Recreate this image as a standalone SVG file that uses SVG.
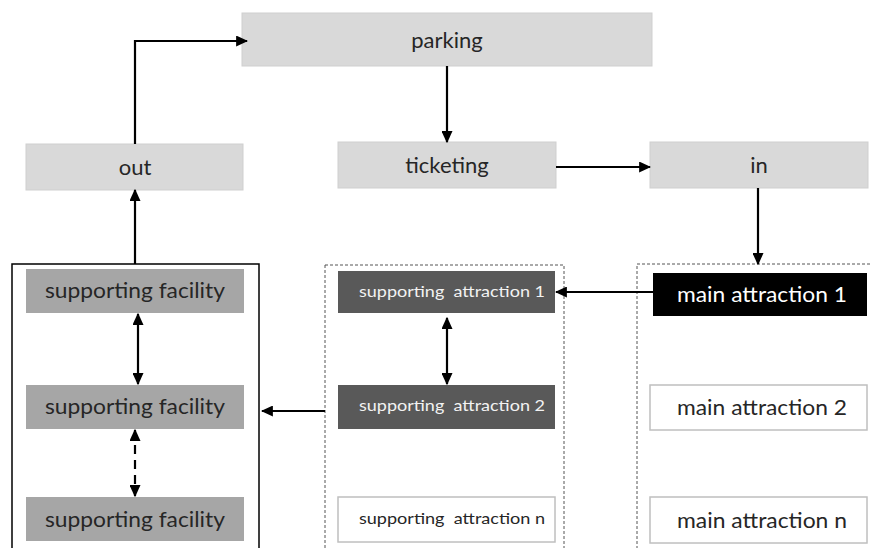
<svg xmlns="http://www.w3.org/2000/svg" width="872" height="548" viewBox="0 0 872 548">
<style>
.lt{fill:#d9d9d9;stroke:#cfcfcf;stroke-width:1}
.sf{fill:#a6a6a6}
.sa{fill:#595959}
.wb{fill:#fff;stroke:#bfbfbf;stroke-width:1.5}
text{font-family:Lato,"Open Sans","Liberation Sans",sans-serif;text-anchor:middle;fill:#262626}
.t20{font-size:22px}
.t15{font-size:15px;fill:#f2f2f2}
.c{fill:none;stroke:#000;stroke-width:2.2}
</style>
<defs>
<marker id="ah" viewBox="0 0 10 10" refX="9" refY="5" markerWidth="5.5" markerHeight="5" markerUnits="strokeWidth" orient="auto-start-reverse" preserveAspectRatio="none">
<path d="M0,0 L10,5 L0,10 z" fill="#000"/>
</marker>
</defs>
<rect width="872" height="548" fill="#fff"/>
<g id="containers">
<rect x="12" y="264" width="247" height="300" fill="none" stroke="#000" stroke-width="1.5"/>
<rect x="325" y="265" width="239" height="300" fill="none" stroke="#555" stroke-width="1" stroke-dasharray="3,2"/>
<rect x="637" y="264" width="250" height="300" fill="none" stroke="#555" stroke-width="1" stroke-dasharray="3,2"/>
</g>
<g id="parking"><rect class="lt" x="242" y="13" width="410" height="53"/><text class="t20" x="447" y="48">parking</text></g>
<g id="out"><rect class="lt" x="26" y="144" width="217" height="46"/><text class="t20" x="135" y="175">out</text></g>
<g id="ticketing"><rect class="lt" x="338" y="142" width="218" height="46"/><text class="t20" x="447" y="173">ticketing</text></g>
<g id="in"><rect class="lt" x="650" y="142" width="218" height="46"/><text class="t20" x="759" y="173">in</text></g>
<g id="sf1"><rect class="sf" x="26" y="269" width="218" height="44"/><text class="t20" x="135" y="298" textLength="180" lengthAdjust="spacingAndGlyphs">supporting facility</text></g>
<g id="sf2"><rect class="sf" x="26" y="385" width="218" height="44"/><text class="t20" x="135" y="414" textLength="180" lengthAdjust="spacingAndGlyphs">supporting facility</text></g>
<g id="sf3"><rect class="sf" x="26" y="497" width="218" height="44"/><text class="t20" x="135" y="527" textLength="180" lengthAdjust="spacingAndGlyphs">supporting facility</text></g>
<g id="sa1"><rect class="sa" x="338" y="271" width="217" height="42"/><text class="t15" x="452" y="297" textLength="186" lengthAdjust="spacingAndGlyphs" xml:space="preserve">supporting  attraction 1</text></g>
<g id="sa2"><rect class="sa" x="338" y="385" width="217" height="44"/><text class="t15" x="452" y="411" textLength="186" lengthAdjust="spacingAndGlyphs" xml:space="preserve">supporting  attraction 2</text></g>
<g id="san"><rect class="wb" x="338" y="497" width="217" height="45"/><text class="t15" style="fill:#262626" x="452" y="524" textLength="186" lengthAdjust="spacingAndGlyphs" xml:space="preserve">supporting  attraction n</text></g>
<g id="ma1"><rect x="653" y="273" width="214" height="43" fill="#000"/><text class="t20" style="fill:#fff" x="762" y="302" textLength="170" lengthAdjust="spacingAndGlyphs">main attraction 1</text></g>
<g id="ma2"><rect class="wb" x="650" y="385" width="217" height="45"/><text class="t20" x="762" y="415" textLength="170" lengthAdjust="spacingAndGlyphs">main attraction 2</text></g>
<g id="man"><rect class="wb" x="650" y="497" width="217" height="46"/><text class="t20" x="762" y="528" textLength="170" lengthAdjust="spacingAndGlyphs">main attraction n</text></g>
<g id="connectors">
<path class="c" d="M135,144 V41 H247" marker-end="url(#ah)"/>
<path class="c" d="M447,66 V142" marker-end="url(#ah)"/>
<path class="c" d="M556,167 H650" marker-end="url(#ah)"/>
<path class="c" d="M758,188 V264" marker-end="url(#ah)"/>
<path class="c" d="M135,264 V190" marker-end="url(#ah)"/>
<path class="c" d="M138,314 V384" marker-start="url(#ah)" marker-end="url(#ah)"/>
<path class="c" d="M135,430 V496" stroke-dasharray="9,6" marker-start="url(#ah)" marker-end="url(#ah)"/>
<path class="c" d="M653,292 H556" marker-end="url(#ah)"/>
<path class="c" d="M447,318 V384" marker-start="url(#ah)" marker-end="url(#ah)"/>
<path class="c" d="M325,411 H262" marker-end="url(#ah)"/>
</g>
</svg>
